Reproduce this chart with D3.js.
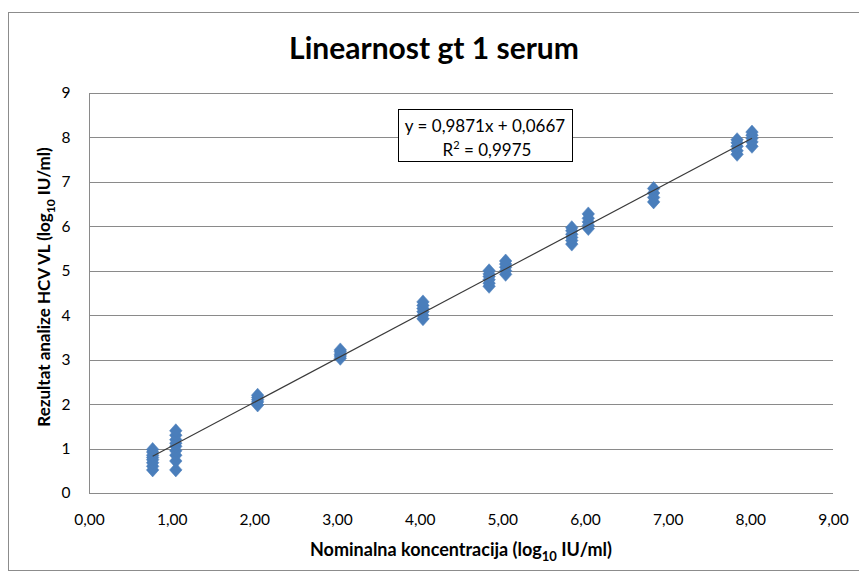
<!DOCTYPE html>
<html><head><meta charset="utf-8">
<script src="https://cdn.jsdelivr.net/npm/d3@7"></script>
<style>body{margin:0;background:#fff}svg{display:block}</style>
</head><body>
<svg id="c" width="859" height="576"></svg>
<script>
const title = "Linearnost gt 1 serum";
const xTitle = "Nominalna koncentracija (log";
const yTitle = "Rezultat analize HCV VL (log";
const nominal = [0.77, 1.05, 2.04, 3.04, 4.04, 4.84, 5.04, 5.84, 6.04, 6.83, 7.84, 8.02];
const measured = [
  [0.52, 0.6, 0.68, 0.75, 0.8, 0.85, 0.92, 0.98],
  [0.52, 0.72, 0.85, 0.95, 1.05, 1.12, 1.2, 1.3, 1.4],
  [1.98, 2.05, 2.1, 2.15, 2.2],
  [3.03, 3.08, 3.12, 3.18, 3.22],
  [3.92, 4.0, 4.08, 4.15, 4.22, 4.3],
  [4.65, 4.72, 4.8, 4.87, 4.93, 5.0],
  [4.92, 5.0, 5.08, 5.15, 5.22],
  [5.6, 5.68, 5.75, 5.82, 5.9, 5.97],
  [5.95, 6.02, 6.1, 6.18, 6.28],
  [6.55, 6.65, 6.75, 6.85],
  [7.62, 7.7, 7.8, 7.88, 7.95],
  [7.8, 7.9, 7.98, 8.05, 8.12]
];
const slope = 0.9871, intercept = 0.0667;
const eqText = "y = 0,9871x + 0,0667";
const r2Text = "= 0,9975";
const xTicks = [0,1,2,3,4,5,6,7,8,9];
const yTicks = [0,1,2,3,4,5,6,7,8,9];

const svg = d3.select("#c");
const font = "Lato, 'Open Sans', sans-serif";
const L = 89, R = 833, T = 93, B = 493;
const x = d3.scaleLinear().domain([0,9]).range([L,R]);
const y = d3.scaleLinear().domain([0,9]).range([B,T]);

svg.append("rect").attr("x",8.5).attr("y",12.5).attr("width",870).attr("height",558)
  .attr("fill","#fff").attr("stroke","#8c8c8c").attr("stroke-width",1);

// gridlines
svg.append("g").selectAll("line").data(yTicks.filter(d=>d>0)).join("line")
  .attr("x1",L).attr("x2",R).attr("y1",d=>Math.round(y(d))+0.5).attr("y2",d=>Math.round(y(d))+0.5)
  .attr("stroke","#8a8a8a").attr("stroke-width",1);

// axes via d3
const fmtX = d => d3.format(".2f")(d).replace(".", ",");
const gx = svg.append("g").attr("transform",`translate(0,${B+0.5})`)
  .call(d3.axisBottom(x).tickValues(xTicks).tickFormat(fmtX).tickSize(0).tickPadding(20));
const gy = svg.append("g").attr("transform",`translate(${L+0.5},0)`)
  .call(d3.axisLeft(y).tickValues(yTicks).tickFormat(d3.format("d")).tickSize(0).tickPadding(19));
[gx,gy].forEach(g=>{
  g.select(".domain").attr("stroke","#8a8a8a");
  g.selectAll("text").attr("font-family",font).attr("font-size",15.5).attr("fill","#000");
});
gx.select(".domain").attr("d",`M${L},0H${R}`);
gy.select(".domain").attr("d",`M0,${T}V${B}`);

// points
const pts = [];
nominal.forEach((nx,i)=>measured[i].forEach(v=>pts.push([nx,v])));
const diamond = d3.symbol().type(d3.symbolDiamond2).size(100);
svg.append("g").selectAll("path").data(pts).join("path")
  .attr("d",diamond)
  .attr("transform",d=>`translate(${x(d[0])},${y(d[1])}) scale(1,1.12)`)
  .attr("fill","#4a7ebb").attr("stroke","#4a7ebb").attr("stroke-width",0.5);

// trend line
const xmin = d3.min(nominal), xmax = d3.max(nominal);
svg.append("line").attr("x1",x(xmin)).attr("y1",y(slope*xmin+intercept))
  .attr("x2",x(xmax)).attr("y2",y(slope*xmax+intercept))
  .attr("stroke","#3a3a3a").attr("stroke-width",1.2);

// equation box
svg.append("rect").attr("x",398.5).attr("y",109.5).attr("width",174).attr("height",52)
  .attr("fill","#fff").attr("stroke","#000").attr("stroke-width",1);
svg.append("text").attr("x",485).attr("y",132).attr("text-anchor","middle")
  .attr("font-family",font).attr("font-size",17).text(eqText);
const r2 = svg.append("text").attr("x",487).attr("y",156).attr("text-anchor","middle")
  .attr("font-family",font).attr("font-size",17);
r2.append("tspan").text("R");
r2.append("tspan").attr("dy",-7).attr("font-size",11).text("2");
r2.append("tspan").attr("dy",7).text(" " + r2Text);

// title
svg.append("text").attr("x",434).attr("y",59).attr("text-anchor","middle")
  .attr("font-family",font).attr("font-weight","bold").attr("font-size",30).text(title);

// x title
const xt = svg.append("text").attr("x",461).attr("y",556).attr("text-anchor","middle")
  .attr("font-family",font).attr("font-weight","bold").attr("font-size",18);
xt.append("tspan").text(xTitle);
xt.append("tspan").attr("dy",5).attr("font-size",13).text("10");
xt.append("tspan").attr("dy",-5).text(" IU/ml)");

// y title
const yt = svg.append("text").attr("transform","translate(50,287) rotate(-90)").attr("text-anchor","middle")
  .attr("font-family",font).attr("font-weight","bold").attr("font-size",17);
yt.append("tspan").text(yTitle);
yt.append("tspan").attr("dy",5).attr("font-size",12).text("10");
yt.append("tspan").attr("dy",-5).text(" IU/ml)");
</script>
</body></html>
